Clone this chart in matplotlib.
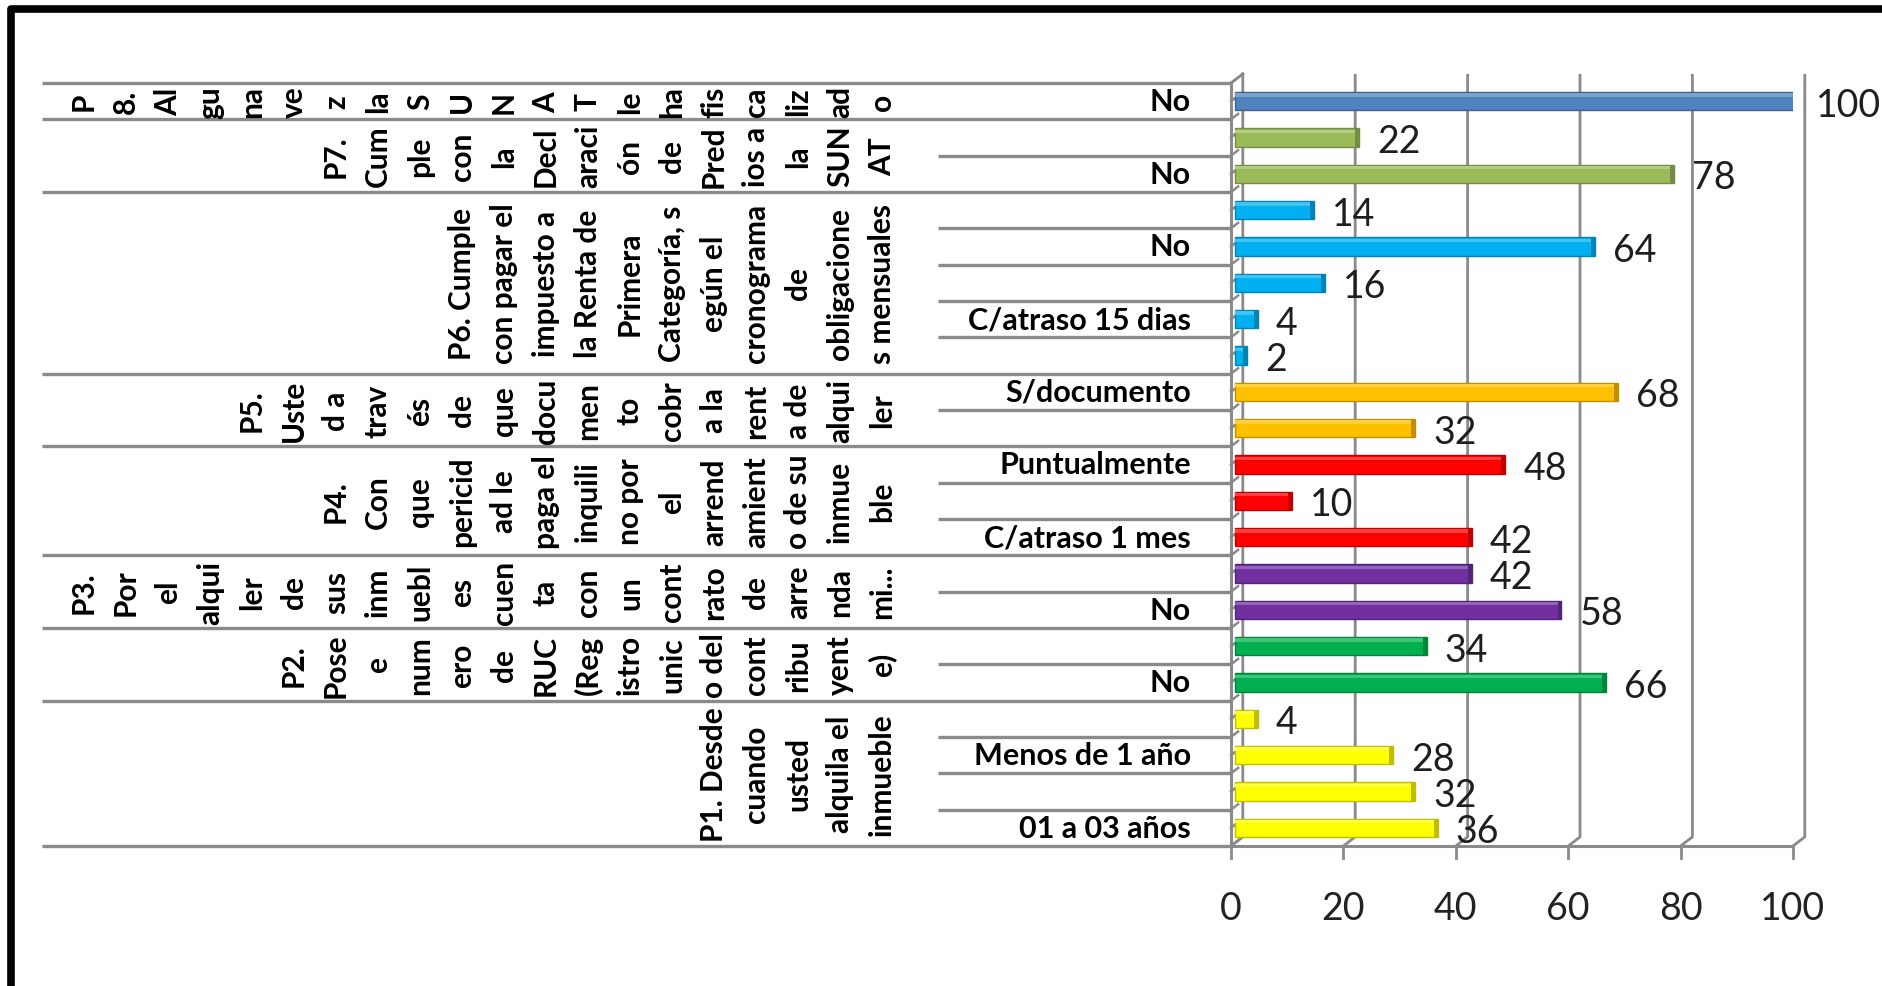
import matplotlib
matplotlib.use("Agg")
import matplotlib.pyplot as plt
from matplotlib.lines import Line2D
from matplotlib.colors import to_rgb
import numpy as np

plt.rcParams['font.family'] = ['Lato', 'DejaVu Sans']

# ---------------- data ----------------
categories = ["No", "", "No", "", "No", "", "C/atraso 15 dias", "", "S/documento", "",
              "Puntualmente", "", "C/atraso 1 mes", "", "No", "", "No", "",
              "Menos de 1 año", "", "01 a 03 años"]
values = [100, 22, 78, 14, 64, 16, 4, 2, 68, 32, 48, 10, 42, 42, 58, 34, 66, 4, 28, 32, 36]
group_sizes = [1, 2, 5, 2, 3, 2, 2, 4]
group_colors = ["#4F81BD", "#9BBB59", "#00B0F0", "#FFC000", "#FF0000", "#7030A0", "#00B050", "#FFFF00"]
group_lines = [
    ["P", "8.", "Al", "gu", "na", "ve", "z", "la", "S", "U", "N", "A", "T", "le", "ha",
     "fis", "ca", "liz", "ad", "o"],
    ["P7.", "Cum", "ple", "con", "la", "Decl", "araci", "ón", "de", "Pred", "ios a", "la",
     "SUN", "AT"],
    ["P6. Cumple", "con pagar el", "impuesto a", "la Renta de", "Primera", "Categoría, s",
     "egún el", "cronograma", "de", "obligacione", "s mensuales"],
    ["P5.", "Uste", "d a", "trav", "és", "de", "que", "docu", "men", "to", "cobr", "a la",
     "rent", "a de", "alqui", "ler"],
    ["P4.", "Con", "que", "pericid", "ad le", "paga el", "inquili", "no por", "el", "arrend",
     "amient", "o de su", "inmue", "ble"],
    ["P3.", "Por", "el", "alqui", "ler", "de", "sus", "inm", "uebl", "es", "cuen", "ta",
     "con", "un", "cont", "rato", "de", "arre", "nda", "mi..."],
    ["P2.", "Pose", "e", "num", "ero", "de", "RUC", "(Reg", "istro", "unic", "o del",
     "cont", "ribu", "yent", "e)"],
    ["P1. Desde", "cuando", "usted", "alquila el", "inmueble"],
]
xticks = [0, 20, 40, 60, 80, 100]

# ---------------- layout ----------------
W, H = 1883, 987
X0, X100 = 1231, 1793      # value axis (front) in pixels
YT, YB = 84, 847           # top / bottom of category band
LX = 42                    # left end of separator lines
SHORT_X = 938              # left end of inner separator lines
LAST_COL = 882             # x of last wrapped column
COL_STEP = 42
CAT_RIGHT = 1191

grid_c = "#8a8a8a"
n = len(values)
ypos = np.arange(n)

def shade(c, f):
    r, g, b = to_rgb(c)
    if f < 1:
        return (r * f, g * f, b * f)
    return (r + (1 - r) * (f - 1), g + (1 - g) * (f - 1), b + (1 - b) * (f - 1))

row_colors = []
for c, s in zip(group_colors, group_sizes):
    row_colors += [c] * s

fig = plt.figure(figsize=(W / 100, H / 100), dpi=100)
ax = fig.add_axes([X0 / W, 1 - YB / H, (X100 - X0) / W, (YB - YT) / H])
ax.set_xlim(0, 100)
ax.set_ylim(n - 0.5, -0.5)
ax.axis('off')

axl = fig.add_axes([LX / W, 1 - YB / H, (X0 - LX) / W, (YB - YT) / H])
axl.set_xlim(LX, X0)
axl.set_ylim(n - 0.5, -0.5)
axl.axis('off')

dx, dy = 2.1, 0.25
bot = n - 0.5
top = -0.5
# back wall gridlines with 3D floor diagonal
for v in xticks[1:]:
    ax.plot([v, v + dx, v + dx], [bot, bot - dy, top - dy], color=grid_c, lw=2.0,
            clip_on=False, zorder=1, solid_capstyle='butt')
# back wall axis and front axis
ax.plot([0, dx, dx], [bot, bot - dy, top - dy], color=grid_c, lw=2.0, clip_on=False, zorder=1)
ax.plot([0, dx], [top, top - dy], color=grid_c, lw=2.0, clip_on=False, zorder=1)
ax.plot([0, 0], [top, bot], color=grid_c, lw=2.2, clip_on=False, zorder=2)
# small row ticks
for b in np.arange(top, bot + 0.01, 0.5):
    ax.plot([0, dx * 0.6], [b, b - dy * 0.6], color=grid_c, lw=1.8, clip_on=False, zorder=2)
# bottom axis line and ticks
ax.plot([0, 100], [bot, bot], color=grid_c, lw=2.2, clip_on=False, zorder=2)
for v in xticks:
    ax.plot([v, v], [bot, bot + 0.33], color=grid_c, lw=2.0, clip_on=False, zorder=2)
    ax.text(v, bot + 1.72, str(v), ha='center', va='center', fontsize=27, color='#222222')

# bars (3D-like)
off = 0.8
bh = 0.5
edge_cols = [shade(c, 0.75) for c in row_colors]
ax.barh(ypos, values, height=bh, left=off, color=row_colors, edgecolor=edge_cols,
        linewidth=1.0, zorder=4)
ax.barh(ypos - 0.17, values, height=0.1, left=off, color=[shade(c, 1.25) for c in row_colors],
        linewidth=0, zorder=5)
ax.barh(ypos, [0.7] * n, left=np.array(values) + off - 0.7, height=bh, color=edge_cols,
        linewidth=0, zorder=5)
for y, v in zip(ypos, values):
    ax.annotate(f"{v}", xy=(v + off, y), xytext=(13, 0), textcoords='offset points',
                ha='left', va='center_baseline', fontsize=27, color='#1e1e1e',
                annotation_clip=False, zorder=6)

# category separators
bounds = np.concatenate([[0], np.cumsum(group_sizes)]) - 0.5
for b in bounds:
    axl.plot([LX, X0], [b, b], color=grid_c, lw=2.4, clip_on=False, solid_capstyle='butt')
for start, size in zip(bounds[:-1], group_sizes):
    for k in range(1, size):
        axl.plot([SHORT_X, X0], [start + k, start + k], color=grid_c, lw=2.4, clip_on=False,
                 solid_capstyle='butt')

# category labels
for y, c in zip(ypos, categories):
    if c:
        axl.text(CAT_RIGHT, y, c, ha='right', va='center', fontsize=22, fontweight='bold',
                 color='black')

# wrapped group labels (vertical)
for start, size, lines in zip(bounds[:-1], group_sizes, group_lines):
    cy = start + size / 2
    m = len(lines)
    for i, line in enumerate(lines):
        x = LAST_COL - (m - 1 - i) * COL_STEP
        axl.text(x, cy, line, rotation=90, ha='center', va='center', fontsize=21.5,
                 fontweight='bold', color='black')

# black frame (top and left edges)
fig.add_artist(Line2D([11 / W, 11 / W, 1.0], [0.0, 1 - 10 / H, 1 - 10 / H], color='black',
                      lw=5.5, solid_joinstyle='round', transform=fig.transFigure))

fig.savefig("out.png", dpi=100)
